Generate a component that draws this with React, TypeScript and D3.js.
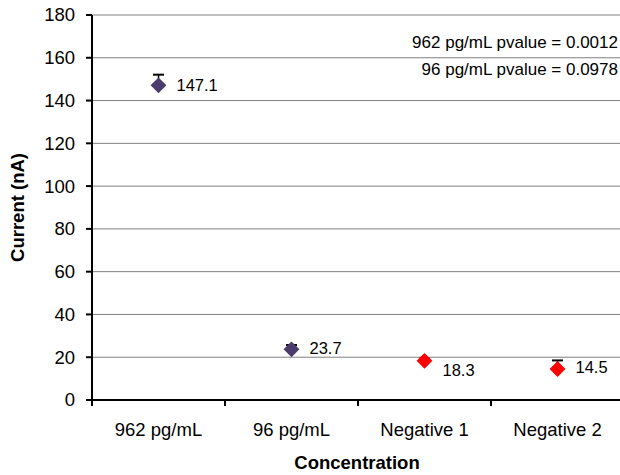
import React from "react";
import * as d3 from "d3";

const categories = ["962 pg/mL", "96 pg/mL", "Negative 1", "Negative 2"];
const currents = [147.1, 23.7, 18.3, 14.5];
const errors = [5, 2, 1, 4];
const markerColors = ["#4a3c6b", "#4a3c6b", "#ff0000", "#ff0000"];
const labelNudge = [0, -1, 9, -2];
const yTicks = [0, 20, 40, 60, 80, 100, 120, 140, 160, 180];
const notes = ["962 pg/mL pvalue = 0.0012", "96 pg/mL pvalue = 0.0978"];

const W = 620;
const H = 475;
const margin = { top: 15, right: -4, bottom: 75, left: 92 };

export default function App() {
  const x = d3
    .scaleBand()
    .domain(categories)
    .range([margin.left, W - margin.right]);
  const y = d3
    .scaleLinear()
    .domain([0, 180])
    .range([H - margin.bottom, margin.top]);

  const font = "Liberation Sans, Arial, sans-serif";
  const diamond = d3.symbol().type(d3.symbolDiamond2).size(160);
  const bounds = x.domain().map((c) => x(c)!).concat([x.range()[1]]);

  return (
    <svg
      width={W}
      height={H}
      style={{ position: "absolute", left: 0, top: 0 }}
      fontFamily={font}
    >
      {yTicks.map((t) => (
        <g key={t}>
          {t > 0 && (
            <line x1={margin.left} x2={W} y1={y(t)} y2={y(t)} stroke="#808080" strokeWidth={1} />
          )}
          <line x1={margin.left - 6} x2={margin.left} y1={y(t)} y2={y(t)} stroke="#000" strokeWidth={2} />
          <text x={margin.left - 17} y={y(t)} dy="0.35em" textAnchor="end" fontSize={18.5}>
            {t}
          </text>
        </g>
      ))}
      <line x1={margin.left} x2={margin.left} y1={y(180)} y2={y(0)} stroke="#000" strokeWidth={2} />
      <line x1={margin.left - 6} x2={W} y1={y(0)} y2={y(0)} stroke="#000" strokeWidth={2} />
      {bounds.map((b, i) => (
        <line key={i} x1={b} x2={b} y1={y(0)} y2={y(0) + 6} stroke="#000" strokeWidth={2} />
      ))}
      {categories.map((c) => (
        <text
          key={c}
          x={x(c)! + x.bandwidth() / 2}
          y={y(0) + 36}
          textAnchor="middle"
          fontSize={18.5}
        >
          {c}
        </text>
      ))}

      {categories.map((c, i) => {
        const cx = x(c)! + x.bandwidth() / 2;
        const cy = y(currents[i]);
        const top = y(currents[i] + errors[i]);
        return (
          <g key={c}>
            <line x1={cx} x2={cx} y1={top} y2={cy} stroke="#000" strokeWidth={1.5} />
            <line x1={cx - 5.5} x2={cx + 5.5} y1={top} y2={top} stroke="#000" strokeWidth={2} />
            <path d={diamond()!} transform={`translate(${cx},${cy})`} fill={markerColors[i]} />
            <text
              x={cx + 18}
              y={cy + labelNudge[i]}
              dy="0.35em"
              fontSize={16.5}
            >
              {currents[i].toFixed(1)}
            </text>
          </g>
        );
      })}

      <text x={618} y={y(160) - 10} textAnchor="end" fontSize={17}>
        {notes[0]}
      </text>
      <text x={618} y={y(160) + 17} textAnchor="end" fontSize={17}>
        {notes[1]}
      </text>

      <text
        transform={`translate(24,${(y(0) + y(180)) / 2}) rotate(-90)`}
        textAnchor="middle"
        fontSize={18.5}
        fontWeight="bold"
      >
        Current (nA)
      </text>
      <text x={357} y={469} textAnchor="middle" fontSize={18.5} fontWeight="bold">
        Concentration
      </text>
    </svg>
  );
}
